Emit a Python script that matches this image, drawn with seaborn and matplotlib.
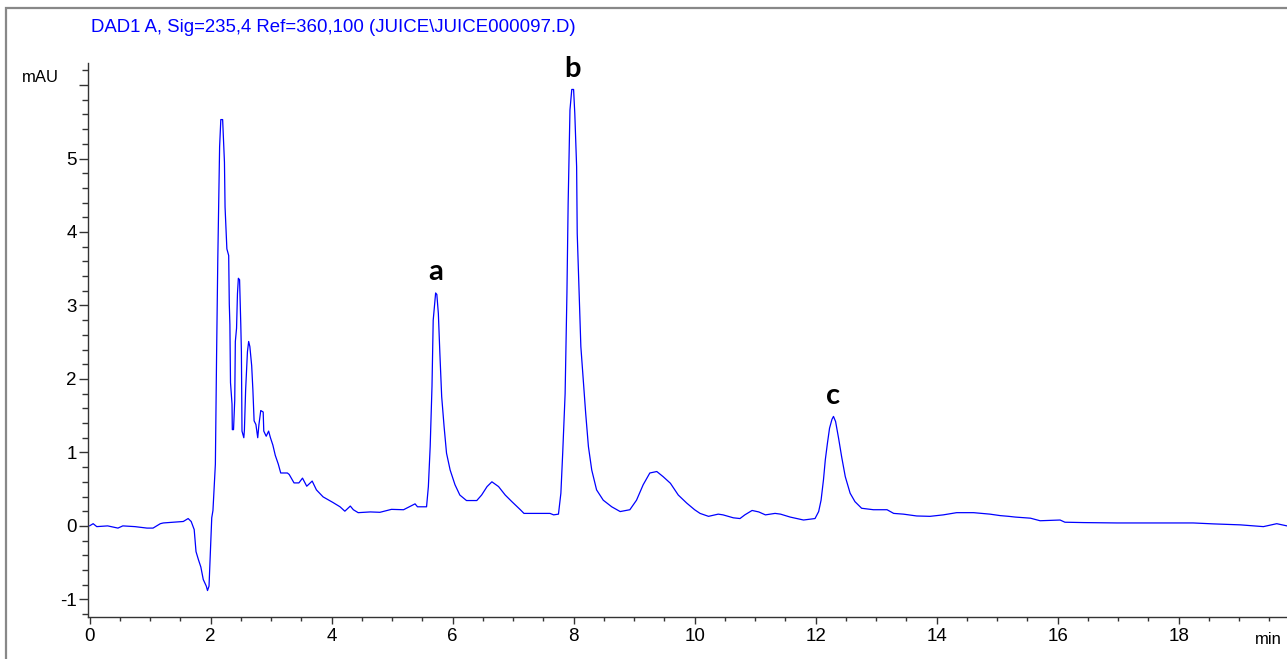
import numpy as np
import pandas as pd
import matplotlib
matplotlib.use("Agg")
import matplotlib.pyplot as plt
from matplotlib.ticker import MultipleLocator, FixedLocator
from matplotlib.patches import Rectangle
import seaborn as sns

# ---- data ----
time_min = [
    0.00, 0.06, 0.12, 0.30, 0.47, 0.55, 0.75, 0.95, 1.05, 1.17, 1.22, 1.38, 1.55, 1.63, 1.68,
    1.73, 1.76, 1.80, 1.84, 1.88, 1.93, 1.95, 1.975, 1.99, 2.02, 2.04, 2.08, 2.10, 2.12, 2.15,
    2.17, 2.20, 2.23, 2.24, 2.27, 2.30, 2.31, 2.32, 2.33, 2.355, 2.36, 2.38, 2.40, 2.41, 2.43,
    2.445, 2.46, 2.48, 2.50, 2.51, 2.52, 2.55, 2.56, 2.58, 2.61, 2.63, 2.65, 2.68, 2.70, 2.72,
    2.75, 2.78, 2.80, 2.83, 2.87, 2.88, 2.92, 2.96, 2.99, 3.03, 3.07, 3.12, 3.16, 3.27, 3.30,
    3.38, 3.46, 3.52, 3.59, 3.68, 3.75, 3.86, 4.02, 4.14, 4.22, 4.31, 4.36, 4.44, 4.64, 4.80,
    4.99, 5.19, 5.38, 5.42, 5.57, 5.60, 5.63, 5.66, 5.68, 5.70, 5.72, 5.74, 5.765, 5.79, 5.82,
    5.86, 5.90, 5.96, 6.04, 6.12, 6.23, 6.40, 6.48, 6.57, 6.65, 6.76, 6.87, 6.98, 7.12, 7.18,
    7.39, 7.61, 7.67, 7.75, 7.79, 7.82, 7.86, 7.89, 7.91, 7.94, 7.97, 8.00, 8.02, 8.05, 8.06,
    8.09, 8.12, 8.16, 8.20, 8.245, 8.30, 8.38, 8.49, 8.63, 8.77, 8.93, 9.04, 9.15, 9.26, 9.375,
    9.48, 9.60, 9.73, 9.87, 10.00, 10.09, 10.23, 10.39, 10.47, 10.64, 10.75, 10.83, 10.95, 11.06, 11.17,
    11.33, 11.42, 11.58, 11.80, 11.99, 12.05, 12.09, 12.13, 12.16, 12.195, 12.23, 12.27, 12.295, 12.33, 12.38,
    12.43, 12.49, 12.57, 12.65, 12.76, 12.955, 13.18, 13.29, 13.45, 13.67, 13.89, 14.11, 14.33, 14.61, 14.88,
    15.05, 15.19, 15.30, 15.55, 15.71, 16.04, 16.12, 16.43, 16.98, 17.69, 18.24, 18.58, 19.02, 19.40, 19.62,
    19.79,
]
signal_mau = [
    0.00, 0.03, -0.01, 0.00, -0.03, 0.00, -0.01, -0.03, -0.03, 0.03, 0.04, 0.05, 0.06, 0.10, 0.06,
    -0.05, -0.35, -0.46, -0.56, -0.73, -0.82, -0.88, -0.82, -0.51, 0.11, 0.21, 0.84, 2.32, 3.63, 5.16,
    5.53, 5.53, 4.95, 4.34, 3.77, 3.68, 3.02, 2.74, 1.95, 1.66, 1.31, 1.31, 1.71, 2.51, 2.69,
    3.16, 3.37, 3.35, 2.74, 2.37, 1.29, 1.20, 1.31, 1.85, 2.37, 2.51, 2.44, 2.18, 1.85, 1.43,
    1.38, 1.20, 1.38, 1.57, 1.55, 1.29, 1.22, 1.29, 1.20, 1.10, 0.96, 0.84, 0.72, 0.72, 0.70,
    0.585, 0.585, 0.65, 0.54, 0.61, 0.49, 0.395, 0.32, 0.26, 0.20, 0.27, 0.22, 0.18, 0.19, 0.185,
    0.225, 0.22, 0.30, 0.26, 0.26, 0.535, 1.08, 1.90, 2.80, 2.98, 3.17, 3.15, 2.89, 2.35, 1.76,
    1.35, 0.99, 0.76, 0.56, 0.42, 0.345, 0.345, 0.42, 0.535, 0.60, 0.535, 0.42, 0.33, 0.22, 0.17,
    0.17, 0.17, 0.15, 0.16, 0.445, 0.99, 1.80, 3.17, 4.39, 5.66, 5.94, 5.94, 5.61, 4.89, 3.98,
    3.21, 2.44, 1.99, 1.53, 1.08, 0.76, 0.49, 0.35, 0.26, 0.195, 0.22, 0.35, 0.56, 0.72, 0.74,
    0.67, 0.58, 0.42, 0.31, 0.22, 0.17, 0.13, 0.16, 0.15, 0.11, 0.10, 0.15, 0.21, 0.19, 0.15,
    0.17, 0.16, 0.12, 0.08, 0.10, 0.195, 0.35, 0.63, 0.90, 1.125, 1.33, 1.45, 1.49, 1.42, 1.19,
    0.94, 0.67, 0.445, 0.33, 0.24, 0.22, 0.22, 0.17, 0.16, 0.135, 0.13, 0.15, 0.18, 0.18, 0.16,
    0.14, 0.13, 0.12, 0.105, 0.07, 0.08, 0.05, 0.045, 0.04, 0.04, 0.04, 0.027, 0.014, -0.01, 0.03,
    0.00,
]
peak_labels = ["a", "b", "c"]
peak_times = [5.72, 7.985, 12.295]
y_tick_values = [-1, 0, 1, 2, 3, 4, 5, 6]
y_tick_labels = ["-1", "0", "1", "2", "3", "4", "5", ""]
x_tick_values = [0, 2, 4, 6, 8, 10, 12, 14, 16, 18]
title_text = "DAD1 A, Sig=235,4 Ref=360,100 (JUICE\\JUICE000097.D)"

df = pd.DataFrame({"time": time_min, "mAU": signal_mau})

# ---- figure ----
sns.set_style("ticks")
plt.rcParams["font.family"] = ["Liberation Sans", "DejaVu Sans"]

W, H = 1287, 659
fig = plt.figure(figsize=(W / 100, H / 100), dpi=100)
ax = fig.add_axes([88 / W, 1 - 617 / H, (W - 88) / W, (617 - 63) / H])

sns.lineplot(data=df, x="time", y="mAU", ax=ax, color="#0000ff", linewidth=0.9,
             sort=False, estimator=None)

ax.set_xlim(-0.025, 19.79)
ax.set_ylim(-1.24, 6.30)
ax.set_xlabel("")
ax.set_ylabel("")

for s in ["top", "right"]:
    ax.spines[s].set_visible(False)
for s in ["left", "bottom"]:
    ax.spines[s].set_color("#333333")
    ax.spines[s].set_linewidth(1.0)

ax.yaxis.set_major_locator(FixedLocator(y_tick_values))
ax.set_yticklabels(y_tick_labels)
ax.yaxis.set_minor_locator(MultipleLocator(0.2))
ax.xaxis.set_major_locator(FixedLocator(x_tick_values))
ax.set_xticklabels([str(v) for v in x_tick_values])
ax.xaxis.set_minor_locator(MultipleLocator(0.5))

ax.tick_params(axis="y", which="major", length=6.5, width=1.0, color="#333333",
               labelsize=13.5, pad=1.5, labelcolor="black")
ax.tick_params(axis="y", which="minor", length=4.3, width=1.0, color="#333333")
ax.tick_params(axis="x", which="major", length=5, width=1.0, color="#333333",
               labelsize=13.5, pad=3, labelcolor="black")
ax.tick_params(axis="x", which="minor", length=3, width=1.0, color="#333333")

# unit labels
fig.text(40 / W, 1 - 77 / H, "mAU", ha="center", va="center", fontsize=12, color="black")
fig.text(1268 / W, 1 - 640 / H, "min", ha="center", va="center", fontsize=12, color="black")

# title
fig.text(91 / W, 1 - 27 / H, title_text, ha="left", va="center", fontsize=13.4, color="#0000ff")

# peak annotations
for lab, t in zip(peak_labels, peak_times):
    yv = float(np.interp(t, time_min, signal_mau))
    ax.annotate(lab, xy=(t, yv), xytext=(0, 9), textcoords="offset points",
                ha="center", va="baseline", fontsize=21, fontweight="bold",
                family=["Lato", "DejaVu Sans"], color="black", annotation_clip=False)

# outer frame
fig.patches.append(Rectangle((6 / W, -0.1), 1.2, 1 - 8 / H + 0.1, transform=fig.transFigure,
                             fill=False, edgecolor="#888888", linewidth=1.6, clip_on=False))

fig.savefig("out.png", dpi=100)
